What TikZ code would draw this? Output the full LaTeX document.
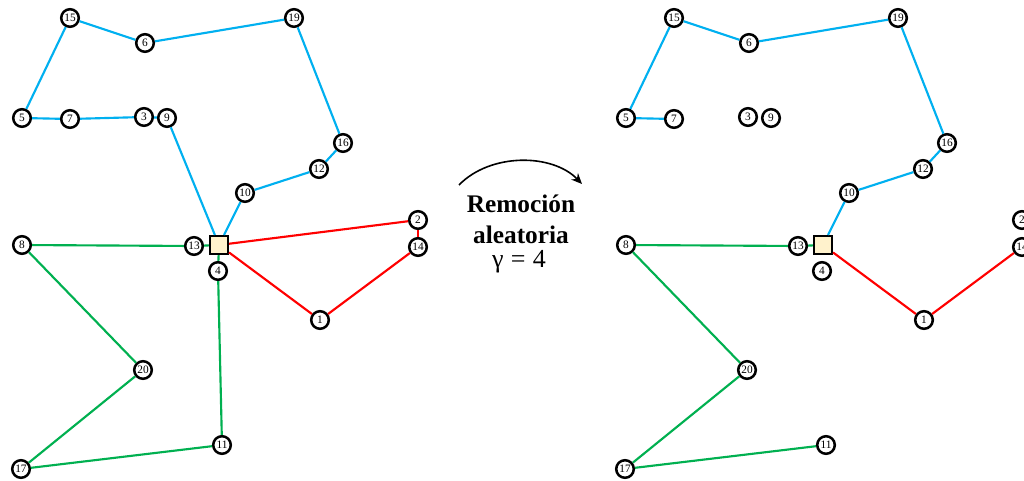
\documentclass[tikz,border=0pt]{standalone}
\usepackage{fontspec}
\setmainfont{Liberation Serif}
\usetikzlibrary{arrows.meta}
\definecolor{cblue}{RGB}{0,176,240}
\definecolor{cgreen}{RGB}{0,176,80}
\definecolor{cred}{RGB}{255,0,0}
\definecolor{depotfill}{RGB}{255,242,204}
\begin{document}
\begin{tikzpicture}[x=0.75pt,y=-0.75pt,
  cust/.style={circle,draw,line width=1.9pt,minimum size=13.2pt,inner sep=0pt,fill=white,font=\fontsize{8.5}{8.5}\selectfont},
  depotbox/.style={rectangle,draw,line width=1.9pt,minimum size=13.2pt,inner sep=0pt,fill=depotfill},
  bl/.style={draw=cblue,line width=1.6pt},
  gr/.style={draw=cgreen,line width=1.6pt},
  rd/.style={draw=cred,line width=1.6pt},
  bigtxt/.style={anchor=base,font=\fontsize{19}{19}\selectfont\bfseries},
  gtxt/.style={anchor=base,font=\fontsize{19.5}{19.5}\selectfont}]
\clip (0,0) rectangle (1024,481);
\fill[white] (0,0) rectangle (1024,481);
% left panel
\begin{scope}[name prefix=L-]
  \node[depotbox] (D) at (219,245) {};
  \foreach \n/\x/\y in {1/320/320,2/418/220,3/144/117,4/218/271,5/22/118,6/145/43,7/70/119,8/22/245,9/167/118,10/245/193,11/222/445,12/319/169,13/194/246,14/418/247,15/70/18,16/343/143,17/21/469,19/294/18,20/143/370}
    \node[cust] (\n) at (\x,\y) {\n};
  \foreach \a/\b in {D/9,9/3,3/7,7/5,5/15,15/6,6/19,19/16,16/12,12/10,10/D}
    \draw[bl] (\a) -- (\b);
  \foreach \a/\b in {D/13,13/8,8/20,20/17,17/11,11/4,4/D}
    \draw[gr] (\a) -- (\b);
  \foreach \a/\b in {D/2,2/14,14/1,1/D}
    \draw[rd] (\a) -- (\b);
\end{scope}
% right panel
\begin{scope}[name prefix=R-]
  \node[depotbox] (D) at (823,245) {};
  \foreach \n/\x/\y in {1/924/320,2/1022/220,3/748/117,4/822/271,5/626/118,6/749/43,7/674/119,8/626/245,9/771/118,10/849/193,11/826/445,12/923/169,13/798/246,14/1022/247,15/674/18,16/947/143,17/625/469,19/898/18,20/747/370}
    \node[cust] (\n) at (\x,\y) {\n};
  \foreach \a/\b in {5/7,5/15,15/6,6/19,19/16,16/12,12/10,10/D}
    \draw[bl] (\a) -- (\b);
  \foreach \a/\b in {D/13,13/8,8/20,20/17,17/11}
    \draw[gr] (\a) -- (\b);
  \foreach \a/\b in {D/1,1/14}
    \draw[rd] (\a) -- (\b);
\end{scope}
% arrow and label
\coordinate (as) at (459,185);
\coordinate (ae) at (582,184);
\draw[line width=1.2pt,-{Stealth[length=8pt,width=7pt]}] (as) .. controls (490,153) and (552,153) .. (ae);
\node[bigtxt] (t1) at (521,213) {Remoción};
\node[bigtxt] (t2) at (521,243) {aleatoria};
\node[gtxt] (t3) at (519,267) {γ\;=\;4};
\end{tikzpicture}
\end{document}
